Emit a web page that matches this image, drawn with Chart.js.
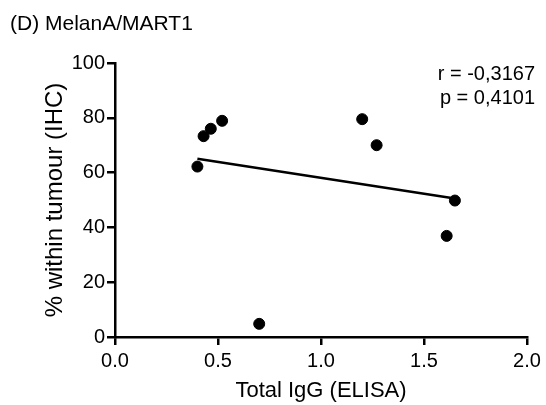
<!DOCTYPE html>
<html lang="en">
<head>
    <meta charset="UTF-8">
    <title>MelanA/MART1</title>
    <script src="https://cdn.jsdelivr.net/npm/chart.js"></script>
    <style>
        html, body { margin: 0; padding: 0; background: #fff; }
        #wrap { width: 546px; height: 405px; position: relative; }
    </style>
</head>
<body>
    <div id="wrap"><canvas id="scatter"></canvas></div>

    <script>
        // Total IgG (ELISA) vs % within tumour (IHC)
        const igg = [0.40, 0.43, 0.465, 0.52, 0.70, 1.20, 1.27, 1.65, 1.61];
        const ihc = [62.2, 73.3, 76.0, 78.9, 4.8, 79.5, 70.0, 49.8, 36.9];
        const xTicks = [0, 0.5, 1.0, 1.5, 2.0];
        const yTicks = [0, 20, 40, 60, 80, 100];
        const statsText = ['r = -0,3167', 'p = 0,4101'];

        const FONT = 'Liberation Sans, Arial, sans-serif';

        // least squares line across the range of the data
        function fitLine(xs, ys) {
            const n = xs.length;
            const mx = xs.reduce((a, b) => a + b, 0) / n;
            const my = ys.reduce((a, b) => a + b, 0) / n;
            let sxy = 0, sxx = 0;
            for (let i = 0; i < n; i++) {
                sxy += (xs[i] - mx) * (ys[i] - my);
                sxx += (xs[i] - mx) * (xs[i] - mx);
            }
            const slope = sxy / sxx;
            const x0 = Math.min(...xs), x1 = Math.max(...xs);
            return [
                { x: x0, y: my + slope * (x0 - mx) },
                { x: x1, y: my + slope * (x1 - mx) }
            ];
        }

        const labelsPlugin = {
            id: 'labels',
            afterDraw(chart) {
                const ctx = chart.ctx;
                const area = chart.chartArea;
                ctx.save();
                ctx.fillStyle = '#000';

                ctx.font = '21px ' + FONT;
                ctx.textAlign = 'left';
                ctx.textBaseline = 'alphabetic';
                ctx.fillText('(D) MelanA/MART1', 10, 30);

                ctx.font = '20px ' + FONT;
                ctx.textAlign = 'right';
                ctx.fillText(statsText[0], 535, 80);
                ctx.fillText(statsText[1], 535, 104);

                ctx.font = '22px ' + FONT;
                ctx.textAlign = 'center';
                ctx.fillText('Total IgG (ELISA)', (area.left + area.right) / 2, 397);

                ctx.translate(62, (area.top + area.bottom) / 2);
                ctx.rotate(-Math.PI / 2);
                ctx.font = '24px ' + FONT;
                ctx.fillText('% within tumour (IHC)', 0, 0);
                ctx.restore();
            }
        };

        const axisStyle = {
            border: { display: true, color: '#000', width: 2.5 },
            grid: { drawOnChartArea: false, drawTicks: true, tickLength: 8, color: '#000', lineWidth: 2.5 }
        };

        new Chart(document.getElementById('scatter'), {
            type: 'scatter',
            data: {
                datasets: [{
                    label: 'samples',
                    data: igg.map((v, i) => ({ x: v, y: ihc[i] })),
                    backgroundColor: '#000',
                    borderColor: '#000',
                    pointRadius: 5.5,
                    pointHoverRadius: 5.5
                }, {
                    label: 'fit',
                    type: 'line',
                    data: fitLine(igg, ihc),
                    borderColor: '#000',
                    borderWidth: 2.5,
                    pointRadius: 0,
                    fill: false
                }]
            },
            options: {
                responsive: true,
                maintainAspectRatio: false,
                animation: false,
                layout: { padding: { top: 63, right: 19, left: 0, bottom: 0 } },
                plugins: { legend: { display: false }, tooltip: { enabled: false } },
                scales: {
                    x: {
                        type: 'linear',
                        min: 0, max: 2,
                        afterBuildTicks: s => { s.ticks = xTicks.map(v => ({ value: v })); },
                        afterFit: s => { s.height = 68; },
                        ticks: {
                            color: '#000', padding: 4,
                            font: { family: FONT, size: 20 },
                            callback: v => v.toFixed(1)
                        },
                        ...axisStyle
                    },
                    y: {
                        min: 0, max: 100,
                        afterBuildTicks: s => { s.ticks = yTicks.map(v => ({ value: v })); },
                        afterFit: s => { s.width = 115; },
                        ticks: {
                            color: '#000', padding: 2,
                            font: { family: FONT, size: 20 }
                        },
                        ...axisStyle
                    }
                }
            },
            plugins: [labelsPlugin]
        });
    </script>
</body>
</html>
